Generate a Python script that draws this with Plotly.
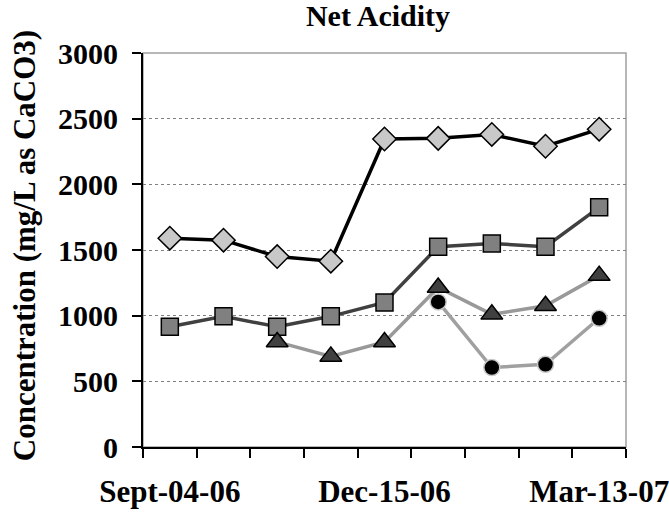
import plotly.graph_objects as go

# Sample index (1..9); only three dates are labelled on the axis
samples = [1, 2, 3, 4, 5, 6, 7, 8, 9]
tick_positions = [1, 5, 9]
tick_labels = ["Sept-04-06", "Dec-15-06", "Mar-13-07"]

diamond_vals = [1590, 1575, 1450, 1415, 2345, 2350, 2380, 2290, 2420]
square_vals = [915, 995, 915, 995, 1100, 1525, 1550, 1525, 1825]
triangle_vals = [None, None, 800, 690, 800, 1215, 1010, 1075, 1305]
circle_vals = [None, None, None, None, None, 1105, 605, 630, 980]

FONT = "Liberation Serif"

fig = go.Figure()

series = [
    (diamond_vals, "diamond", "#c8c8c8", "#000000", "#000000", 18),
    (square_vals, "square", "#808080", "#000000", "#404040", 17),
    (triangle_vals, "triangle-up", "#404040", "#000000", "#999999", 19),
    (circle_vals, "circle", "#000000", "#c8c8c8", "#a0a0a0", 16),
]
for vals, sym, fill, edge, lcol, size in series:
    fig.add_trace(go.Scatter(
        x=samples, y=vals, mode="lines+markers",
        line=dict(color=lcol, width=3.5),
        marker=dict(symbol=sym, size=size, color=fill,
                    line=dict(color=edge, width=1.5)),
        showlegend=False, connectgaps=False,
    ))

fig.update_layout(
    width=669, height=517,
    margin=dict(l=143, r=43, t=53, b=70, autoexpand=False),
    paper_bgcolor="white", plot_bgcolor="white",
    title=dict(text="<b>Net Acidity</b>", x=0.565, xanchor="center",
               y=0.99, yanchor="top",
               font=dict(family=FONT, size=30, color="black")),
    font=dict(family=FONT, color="black"),
    shapes=[dict(type="rect", xref="paper", yref="paper", x0=0, x1=1, y0=0, y1=1,
                 line=dict(color="#a0a0a0", width=1.5), layer="below")],
    annotations=[dict(text="<b>Concentration (mg/L as CaCO3)</b>", textangle=-90,
                      xref="paper", yref="paper", x=-0.246, y=0.51,
                      xanchor="center", yanchor="middle", showarrow=False,
                      font=dict(family=FONT, size=31, color="black"))],
)

fig.update_xaxes(
    range=[0.5, 9.5], tickmode="array", tickvals=tick_positions,
    ticktext=["<b>%s</b>" % t for t in tick_labels],
    ticks="", ticklabelstandoff=16, automargin=False,
    ticklabeloverflow="allow",
    tickfont=dict(family=FONT, size=31, color="black"),
    showgrid=False, zeroline=False,
    showline=True, linecolor="black", linewidth=2,
    minor=dict(ticks="outside", tick0=0.5, dtick=1, ticklen=9,
               tickcolor="black", tickwidth=2, showgrid=False),
)
fig.update_yaxes(
    range=[0, 3000], tickmode="linear", tick0=0, dtick=500,
    ticks="outside", ticklen=9, tickcolor="black", tickwidth=2,
    ticklabelstandoff=8, automargin=False,
    ticklabeloverflow="allow",
    tickfont=dict(family=FONT, size=30, color="black"),
    tickprefix="<b>", ticksuffix="</b>",
    showgrid=True, gridcolor="#808080", griddash="dot", gridwidth=1,
    zeroline=False, showline=True, linecolor="black", linewidth=2,
)

fig.write_html("out.html")
